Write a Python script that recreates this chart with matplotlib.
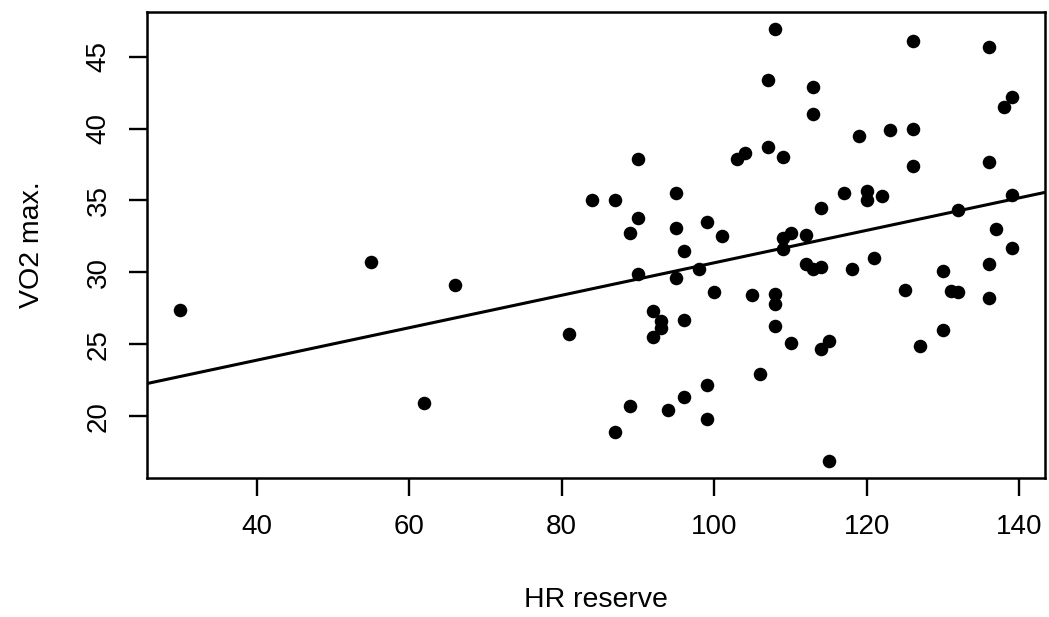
import numpy as np
import matplotlib
matplotlib.use("Agg")
import matplotlib.pyplot as plt

plt.rcParams['font.family'] = ['Liberation Sans', 'DejaVu Sans']

hr_reserve = [108, 107, 90, 103, 104, 107, 109, 84, 87, 95, 90, 89, 95, 99, 101, 109, 110,
              96, 90, 95, 98, 109, 100, 105, 108, 108, 92, 93, 93, 92, 96, 81, 108, 110,
              106, 99, 96, 89, 94, 99, 87, 126, 136, 113, 113, 139, 138, 119, 123, 126,
              126, 136, 117, 120, 120, 122, 114, 132, 139, 137, 139, 112, 121, 112, 113,
              114, 118, 130, 136, 125, 131, 132, 136, 130, 127, 114, 115, 115, 30, 55, 66, 62]
vo2_max = [46.9, 43.4, 37.9, 37.9, 38.3, 38.7, 38.0, 35.0, 35.0, 35.5, 33.8, 32.7, 33.1, 33.5,
           32.5, 32.4, 32.7, 31.5, 29.9, 29.6, 30.2, 31.6, 28.6, 28.4, 28.5, 27.8, 27.3, 26.65,
           26.1, 25.5, 26.7, 25.7, 26.3, 25.1, 22.9, 22.2, 21.3, 20.7, 20.4, 19.8, 18.9, 46.1,
           45.7, 42.9, 41.0, 42.2, 41.5, 39.5, 39.9, 40.0, 37.4, 37.7, 35.5, 35.65, 35.0, 35.3,
           34.5, 34.3, 35.35, 33.0, 31.7, 32.6, 31.0, 30.55, 30.2, 30.4, 30.2, 30.1, 30.6, 28.8,
           28.7, 28.6, 28.2, 26.0, 24.9, 24.7, 25.2, 16.9, 27.4, 30.7, 29.1, 20.9]
x_ticks = [40, 60, 80, 100, 120, 140]
y_ticks = [20, 25, 30, 35, 40, 45]

x = np.array(hr_reserve, dtype=float)
y = np.array(vo2_max, dtype=float)

fig = plt.figure(figsize=(10.49, 6.17), dpi=100)
ax = fig.add_axes([147/1049, 1-478/617, (1045-147)/1049, (478-12)/617])

ax.scatter(x, y, s=95, color='black', zorder=3, linewidths=0)

slope, intercept = np.polyfit(x, y, 1)
ax.axline((0, intercept), slope=slope, color='black', lw=2.2, zorder=2)

dx = (x.max() - x.min()) * 0.04
dy = (y.max() - y.min()) * 0.04
ax.set_xlim(x.min() - dx, x.max() + dx)
ax.set_ylim(y.min() - dy, y.max() + dy)

ax.set_xticks(x_ticks)
ax.set_yticks(y_ticks)
ax.set_xticklabels([str(t) for t in x_ticks], fontsize=20)
ax.set_yticklabels([str(t) for t in y_ticks], fontsize=20, rotation=90, va='center')
ax.tick_params(axis='both', direction='out', length=13, width=1.7)
ax.tick_params(axis='x', pad=13)
ax.tick_params(axis='y', pad=12.5)

for s in ax.spines.values():
    s.set_linewidth(1.8)

ax.set_xlabel('HR reserve', fontsize=20.5, labelpad=34)
ax.set_ylabel('VO2 max.', fontsize=20.5, labelpad=29)

fig.savefig('out.png', dpi=100, facecolor='white')
